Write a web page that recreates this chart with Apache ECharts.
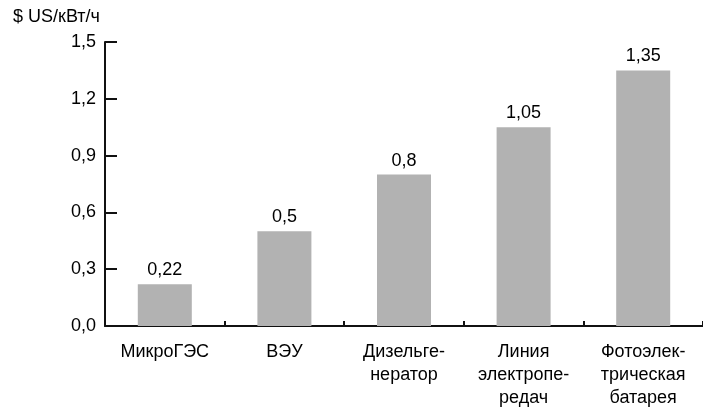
<!DOCTYPE html>
<html><head><meta charset="utf-8">
<script src="https://cdn.jsdelivr.net/npm/echarts@6/dist/echarts.min.js"></script>
<style>html,body{margin:0;padding:0;background:#fff}#c{width:703px;height:410px}</style>
</head><body><div id="c"></div>
<script>
const categories = ['МикроГЭС', 'ВЭУ', 'Дизельге-\nнератор', 'Линия\nэлектропе-\nредач', 'Фотоэлек-\nтрическая\nбатарея'];
const values = [0.22, 0.5, 0.8, 1.05, 1.35];
const yTicks = [0, 0.3, 0.6, 0.9, 1.2, 1.5];
const yTitle = '$ US/кВт/ч';

const fmt = v => String(v).replace('.', ',');
const FONT = 'Liberation Sans, Arial, sans-serif';
const chart = echarts.init(document.getElementById('c'), null, {renderer: 'canvas'});
chart.setOption({
  animation: false,
  backgroundColor: '#fff',
  textStyle: {fontFamily: FONT},
  grid: {left: 105, top: 42, width: 603, height: 288, containLabel: false},
  graphic: [{type: 'text', left: 13, top: 8, style: {text: yTitle, font: '18px ' + FONT, fill: '#000'}}],
  xAxis: {
    type: 'category', data: categories,
    axisLine: {lineStyle: {color: '#111', width: 2}},
    axisTick: {show: true, inside: true, length: 5, lineStyle: {color: '#111', width: 2}},
    axisLabel: {color: '#000', fontSize: 18, lineHeight: 23, margin: 15, interval: 0}
  },
  yAxis: {
    type: 'value', min: yTicks[0], max: yTicks[yTicks.length - 1], interval: 0.3,
    splitLine: {show: false},
    axisLine: {show: true, lineStyle: {color: '#111', width: 2}},
    axisTick: {show: true, inside: true, length: 12, lineStyle: {color: '#111', width: 2}},
    axisLabel: {color: '#000', fontSize: 18, margin: 9, formatter: v => {
      const t = yTicks.find(x => Math.abs(x - v) < 1e-9);
      return t === undefined ? '' : t.toFixed(1).replace('.', ',');
    }}
  },
  series: [{
    type: 'bar', data: values, barWidth: 54,
    itemStyle: {color: '#b2b2b2'},
    label: {show: true, position: 'top', distance: 5, color: '#000', fontSize: 18, formatter: p => fmt(p.value)}
  }]
});
</script></body></html>
